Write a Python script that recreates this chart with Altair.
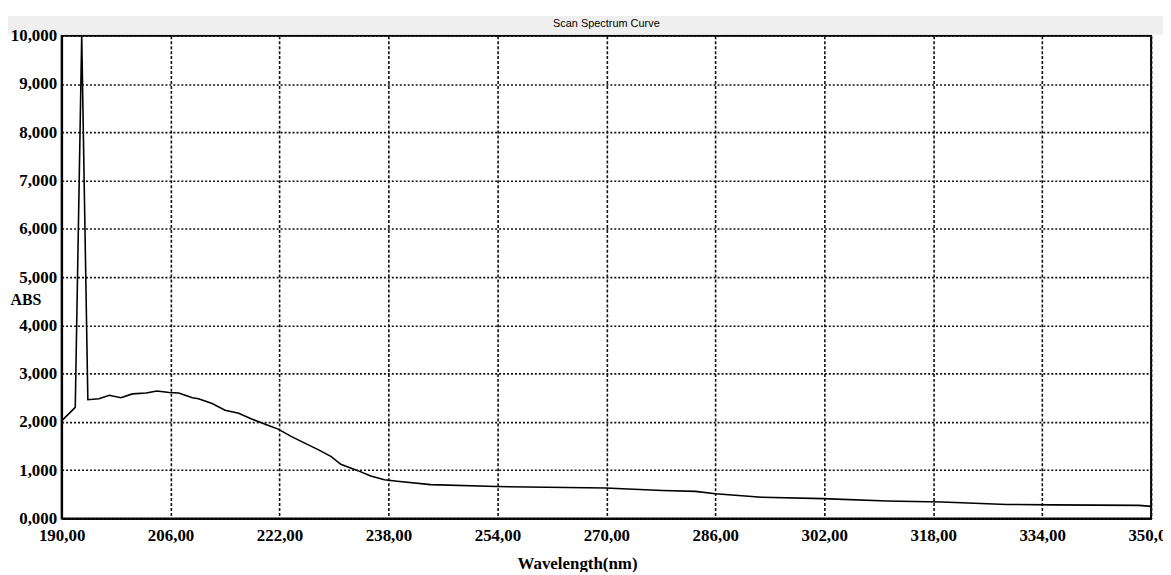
import altair as alt
import pandas as pd

# Scan spectrum data (wavelength in nm, absorbance)
wavelength = [190.0, 192.0, 192.95, 193.85, 195.5, 197.0, 198.7, 200.4, 202.4, 204.0,
              205.8, 207.2, 209.2, 210.1, 212.1, 214.0, 216.0, 217.9, 219.9, 221.8,
              223.7, 225.7, 227.6, 229.6, 231.0, 233.5, 235.4, 237.4, 239.3, 244.2,
              253.9, 269.9, 278.2, 283.1, 286.0, 292.8, 301.8, 311.2, 319.3, 328.8,
              335.6, 348.2, 350.0]
absorbance = [2.02, 2.30, 10.0, 2.46, 2.48, 2.55, 2.50, 2.58, 2.60, 2.64,
              2.61, 2.60, 2.50, 2.48, 2.38, 2.24, 2.18, 2.06, 1.95, 1.85,
              1.70, 1.56, 1.43, 1.28, 1.12, 0.99, 0.88, 0.80, 0.77, 0.70,
              0.66, 0.63, 0.58, 0.56, 0.51, 0.44, 0.41, 0.36, 0.34, 0.29,
              0.28, 0.27, 0.25]

x_ticks = [190, 206, 222, 238, 254, 270, 286, 302, 318, 334, 350]
y_ticks = [0, 1, 2, 3, 4, 5, 6, 7, 8, 9, 10]
title_text = "Scan Spectrum Curve"

df = pd.DataFrame({"wl": wavelength, "abs": absorbance})

W, H = 1097, 486
serif = "Liberation Serif"

band = alt.Chart(pd.DataFrame({"a": [0]})).mark_rect(
    color="#efefef", clip=False
).encode(
    x=alt.value(-54), x2=alt.value(W + 20),
    y=alt.value(-20), y2=alt.value(-1)
)

title = alt.Chart(pd.DataFrame({"t": [title_text]})).mark_text(
    font="Liberation Sans Narrow, Arial Narrow, Liberation Sans, sans-serif",
    fontSize=11, color="black", align="center", baseline="middle", clip=False
).encode(
    text="t:N", x=alt.value(W / 2), y=alt.value(-12)
)

line = alt.Chart(df).mark_line(color="black", strokeWidth=1.6, clip=True).encode(
    x=alt.X("wl:Q",
            scale=alt.Scale(domain=[190, 350], nice=False, zero=False),
            axis=alt.Axis(values=x_ticks,
                          labelExpr="replace(format(datum.value, '.2f'), '.', ',')",
                          title="Wavelength(nm)",
                          titleX=519, titleY=50, titleAnchor=None,
                          titleAlign="center", titleBaseline="alphabetic",
                          titleFont=serif, titleFontSize=17, titleFontWeight="bold",
                          titleColor="black",
                          labelFont=serif, labelFontSize=17, labelFontWeight="bold",
                          labelColor="black", labelPadding=9,
                          ticks=False, domainColor="black", domainWidth=2,
                          grid=True, gridColor="#111", gridDash=[3, 2],
                          gridWidth=1.6, gridOpacity=1,
                          labelOverlap=False, labelFlush=False)),
    y=alt.Y("abs:Q",
            scale=alt.Scale(domain=[0, 10], nice=False),
            axis=alt.Axis(values=y_ticks,
                          labelExpr="replace(format(datum.value, '.3f'), '.', ',')",
                          title="ABS", titleAngle=0,
                          titleX=-52, titleY=266, titleAlign="left",
                          titleBaseline="middle",
                          titleFont=serif, titleFontSize=16, titleFontWeight="bold",
                          titleColor="black",
                          labelFont=serif, labelFontSize=17, labelFontWeight="bold",
                          labelColor="black", labelPadding=5,
                          ticks=False, domainColor="black", domainWidth=2,
                          grid=True, gridColor="#111", gridDash=[2, 2],
                          gridWidth=1.6, gridOpacity=1, zindex=1,
                          labelOverlap=False, labelFlush=False)),
)

chart = alt.layer(band, title, line).properties(
    width=W, height=H,
    autosize=alt.AutoSizeParams(type="none"),
    padding={"left": 54, "top": 26, "right": 12, "bottom": 52},
    background="white",
).configure_view(
    stroke="black", strokeWidth=2, fill="white"
)

chart.save("out.html", embed_options={"renderer": "svg", "actions": False})
